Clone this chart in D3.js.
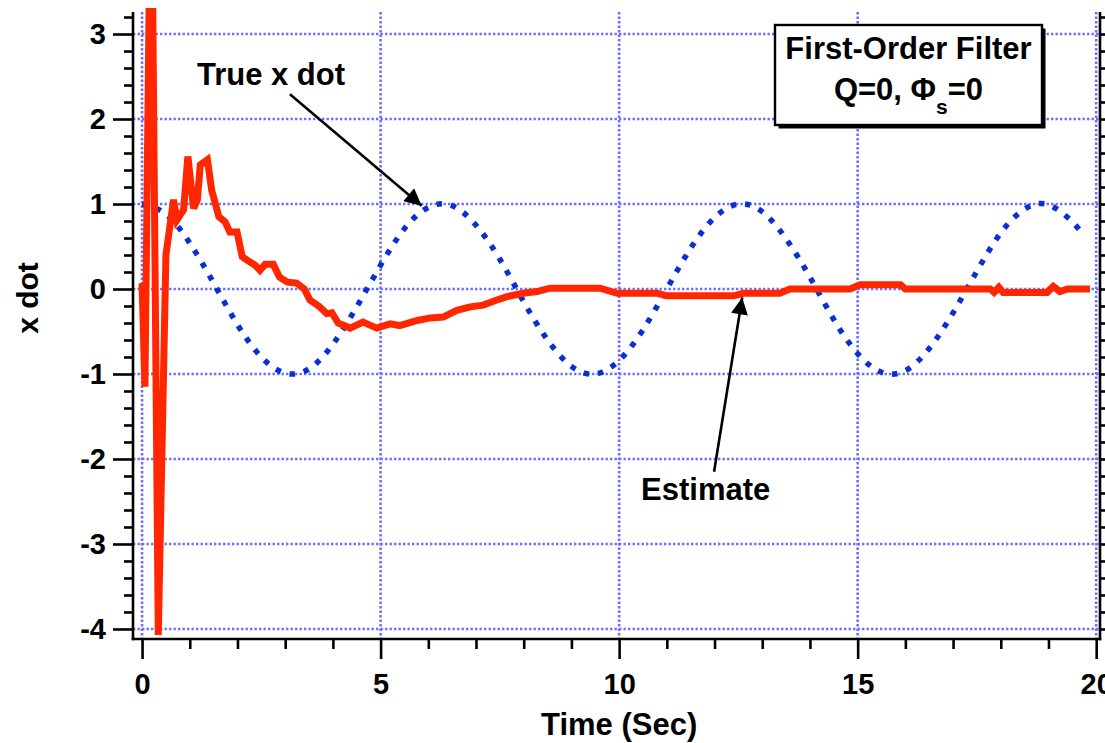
<!DOCTYPE html>
<html>
<head>
<meta charset="utf-8">
<script src="https://cdn.jsdelivr.net/npm/d3@7"></script>
<style>
  html, body { margin: 0; padding: 0; background: #fff; }
  svg { display: block; font-family: "Liberation Sans", Arial, Helvetica, sans-serif; font-weight: bold; }
</style>
</head>
<body>
<svg id="chart" width="1105" height="743"></svg>
<script>
// True x dot (dotted blue), sampled every half second
const trueTime = [0, 0.5, 1, 1.5, 2, 2.5, 3, 3.5, 4, 4.5, 5, 5.5, 6, 6.5, 7, 7.5, 8, 8.5, 9, 9.5,
  10, 10.5, 11, 11.5, 12, 12.5, 13, 13.5, 14, 14.5, 15, 15.5, 16, 16.5, 17, 17.5, 18, 18.5, 19, 19.5, 19.75];
const trueXdot = [1.00, 0.88, 0.54, 0.07, -0.42, -0.80, -0.99, -0.94, -0.65, -0.21, 0.28, 0.71, 0.96, 0.98, 0.75, 0.35, -0.15, -0.60, -0.91, -1.00,
  -0.84, -0.48, 0.00, 0.48, 0.84, 1.00, 0.91, 0.59, 0.14, -0.36, -0.76, -0.98, -0.96, -0.70, -0.28, 0.21, 0.66, 0.94, 0.99, 0.79, 0.62];

// First-order filter estimate of x dot (solid red)
const estTime = [0, 0.06, 0.19, 0.34, 0.5, 0.66, 0.73, 0.87, 0.96, 1.08, 1.16, 1.22, 1.37, 1.46, 1.61, 1.74, 1.84, 1.99,
  2.1, 2.2, 2.37, 2.47, 2.58, 2.75, 2.88, 3.05, 3.24, 3.4, 3.52, 3.7, 3.87, 3.98, 4.11, 4.36, 4.63, 4.92, 5.2, 5.4,
  5.77, 6.04, 6.31, 6.6, 6.88, 7.15, 7.44, 7.65, 7.99, 8.28, 8.55, 9.6, 9.96, 10.8, 11.0, 12.4, 12.6, 13.37, 13.58,
  14.84, 15.05, 15.9, 16.0, 17.78, 17.86, 17.96, 18.05, 18.97, 19.1, 19.24, 19.4, 19.87];
const estXdot = [0.07, -1.15, 5.5, -4.07, 0.4, 1.05, 0.81, 0.93, 1.56, 0.95, 1.05, 1.46, 1.52, 1.16, 0.85, 0.79, 0.67, 0.67,
  0.38, 0.34, 0.28, 0.22, 0.29, 0.29, 0.14, 0.08, 0.07, 0.0, -0.13, -0.2, -0.29, -0.28, -0.4, -0.46, -0.39, -0.46, -0.41, -0.43,
  -0.37, -0.34, -0.33, -0.25, -0.21, -0.19, -0.13, -0.09, -0.05, -0.03, 0.01, 0.01, -0.05, -0.05, -0.08, -0.08, -0.05, -0.05, 0.0,
  0.0, 0.05, 0.05, 0.0, 0.0, -0.04, 0.02, -0.04, -0.04, 0.03, -0.03, 0.0, 0.0];

// Axis ticks
const xMajorTicks = [0, 5, 10, 15, 20];
const xMinorTicks = [1, 2, 3, 4, 6, 7, 8, 9, 11, 12, 13, 14, 16, 17, 18, 19];
const yMajorTicks = [-4, -3, -2, -1, 0, 1, 2, 3];

// Annotations, in data units
const trueLabel = { text: "True x dot", x: 1.15, y: 2.4, from: [3.1, 2.29], to: [5.86, 0.98] };
const estLabel = { text: "Estimate", x: 10.46, y: -2.48, from: [11.99, -2.15], to: [12.58, -0.1] };

const svg = d3.select("#chart");
const plotLeft = 133, plotRight = 1100, plotTop = 12, plotBottom = 639;

const x = d3.scaleLinear().domain([-0.19, 20.08]).range([plotLeft, plotRight]);
const y = d3.scaleLinear().domain([-4.118, 3.259]).range([plotBottom, plotTop]);

const yMinorTicks = d3.range(-40, 33, 2).map(d => d / 10).filter(d => !yMajorTicks.some(m => Math.abs(m - d) < 1e-9));
const plainNumber = d => String(d);

const defs = svg.append("defs");
defs.append("clipPath").attr("id", "plotClip")
  .append("rect").attr("x", plotLeft).attr("y", 8).attr("width", plotRight - plotLeft).attr("height", plotBottom - 8);

// Dotted grid
const grid = svg.append("g").attr("stroke", "#6e6eff").attr("stroke-width", 2.6).attr("stroke-dasharray", "2.4,2.1");
grid.selectAll("line.h").data(yMajorTicks).join("line").attr("class", "h")
  .attr("x1", plotLeft).attr("x2", plotRight).attr("y1", d => y(d)).attr("y2", d => y(d));
grid.selectAll("line.v").data(xMajorTicks).join("line").attr("class", "v")
  .attr("y1", plotTop).attr("y2", plotBottom).attr("x1", d => x(d)).attr("x2", d => x(d));

// Axes
const axisStroke = g => g.selectAll("line, path").attr("stroke", "#000").attr("stroke-width", 2.6);
const clearText = g => g.selectAll("text").remove();
const styleLabels = g => g.selectAll("text").attr("font-size", 29).attr("font-weight", "bold")
  .attr("font-family", "Liberation Sans, Arial, sans-serif").attr("fill", "#000");

const xAxisMajor = svg.append("g").attr("transform", `translate(0,${plotBottom})`)
  .call(d3.axisBottom(x).tickValues(xMajorTicks).tickSize(20).tickSizeOuter(0).tickFormat(plainNumber).tickPadding(14));
xAxisMajor.select(".domain").remove();
styleLabels(xAxisMajor); axisStroke(xAxisMajor);
const xAxisMinor = svg.append("g").attr("transform", `translate(0,${plotBottom})`)
  .call(d3.axisBottom(x).tickValues(xMinorTicks).tickSize(10).tickSizeOuter(0));
xAxisMinor.select(".domain").remove();
clearText(xAxisMinor); axisStroke(xAxisMinor);

const yAxisMajor = svg.append("g").attr("transform", `translate(${plotLeft},0)`)
  .call(d3.axisLeft(y).tickValues(yMajorTicks).tickSize(20).tickSizeOuter(0).tickFormat(plainNumber).tickPadding(7));
yAxisMajor.select(".domain").remove();
styleLabels(yAxisMajor); axisStroke(yAxisMajor);
const yAxisMinor = svg.append("g").attr("transform", `translate(${plotLeft},0)`)
  .call(d3.axisLeft(y).tickValues(yMinorTicks).tickSize(9).tickSizeOuter(0));
yAxisMinor.select(".domain").remove();
clearText(yAxisMinor); axisStroke(yAxisMinor);

const yAxisRight = svg.append("g").attr("transform", `translate(${plotRight},0)`)
  .call(d3.axisRight(y).tickValues(yMajorTicks.concat(yMinorTicks)).tickSize(9).tickSizeOuter(0));
yAxisRight.select(".domain").remove();
clearText(yAxisRight); axisStroke(yAxisRight);

// Axis frame lines
const frame = svg.append("g").attr("stroke", "#000").attr("stroke-width", 2.6);
frame.append("line").attr("x1", plotLeft).attr("x2", plotLeft).attr("y1", plotTop).attr("y2", plotBottom + 1.3);
frame.append("line").attr("x1", plotRight).attr("x2", plotRight).attr("y1", plotTop).attr("y2", plotBottom + 1.3);
frame.append("line").attr("x1", plotLeft - 1.3).attr("x2", plotRight + 1.3).attr("y1", plotBottom).attr("y2", plotBottom);

// Series
const plot = svg.append("g").attr("clip-path", "url(#plotClip)");

const trueLine = d3.line().x((d, i) => x(trueTime[i])).y(d => y(d)).curve(d3.curveNatural);
plot.append("path").datum(trueXdot)
  .attr("d", trueLine)
  .attr("fill", "none")
  .attr("stroke", "#0a30d2")
  .attr("stroke-width", 5.5)
  .attr("stroke-dasharray", "5.5,9");

const estLine = d3.line().x((d, i) => x(estTime[i])).y(d => y(d));
plot.append("path").datum(estXdot)
  .attr("d", estLine)
  .attr("fill", "none")
  .attr("stroke", "#ff2600")
  .attr("stroke-width", 7)
  .attr("stroke-linejoin", "miter")
  .attr("stroke-miterlimit", 3);

// Annotation arrows
defs.append("marker")
  .attr("id", "arrowHead").attr("viewBox", "0 0 10 10").attr("refX", 10).attr("refY", 5)
  .attr("markerWidth", 8.5).attr("markerHeight", 6.5).attr("markerUnits", "strokeWidth").attr("orient", "auto")
  .append("path").attr("d", "M0,0 L10,5 L0,10 Z").attr("fill", "#000");

[trueLabel, estLabel].forEach(a => {
  svg.append("line")
    .attr("x1", x(a.from[0])).attr("y1", y(a.from[1]))
    .attr("x2", x(a.to[0])).attr("y2", y(a.to[1]))
    .attr("stroke", "#000").attr("stroke-width", 2.6)
    .attr("marker-end", "url(#arrowHead)");
  svg.append("text").attr("x", x(a.x)).attr("y", y(a.y))
    .attr("font-size", 31).attr("fill", "#000").text(a.text);
});

// Axis titles
svg.append("text").attr("x", (x(0) + x(20)) / 2).attr("y", 735)
  .attr("text-anchor", "middle").attr("font-size", 31).attr("fill", "#000").text("Time (Sec)");
svg.append("text").attr("transform", "translate(38,298) rotate(-90)")
  .attr("text-anchor", "middle").attr("font-size", 30).attr("fill", "#000").text("x dot");

// Caption box
const box = { x: 775, y: 25, w: 267, h: 100 };
svg.append("rect").attr("x", box.x + 3.5).attr("y", box.y + 3.5).attr("width", box.w).attr("height", box.h).attr("fill", "#000");
svg.append("rect").attr("x", box.x).attr("y", box.y).attr("width", box.w).attr("height", box.h)
  .attr("fill", "#fff").attr("stroke", "#000").attr("stroke-width", 2.4);
const cx = box.x + box.w / 2;
svg.append("text").attr("x", cx).attr("y", 59).attr("text-anchor", "middle").attr("font-size", 31).text("First-Order Filter");
const line2 = svg.append("text").attr("x", cx).attr("y", 100).attr("text-anchor", "middle").attr("font-size", 31);
line2.append("tspan").text("Q=0, \u03A6");
line2.append("tspan").attr("font-size", 21).attr("dy", 14).text("s");
line2.append("tspan").attr("dy", -14).text("=0");
</script>
</body>
</html>
